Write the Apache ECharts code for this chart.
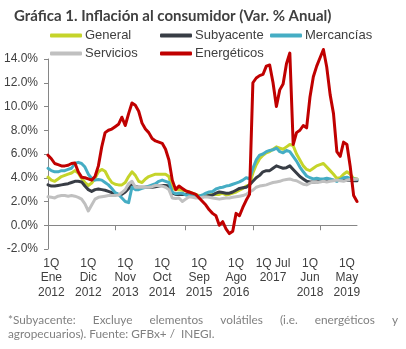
<!DOCTYPE html>
<html>
<head>
<meta charset="utf-8">
<script src="https://cdn.jsdelivr.net/npm/echarts@6/dist/echarts.min.js"></script>
<style>
  html, body { margin: 0; padding: 0; background: #fff; }
  #chart { width: 406px; height: 349px; }
</style>
</head>
<body>
<div id="chart"></div>
<script>
// Meses (primera quincena), de Dic 2011 a Ago 2019
const monthNames = ['Ene', 'Feb', 'Mar', 'Abr', 'May', 'Jun', 'Jul', 'Ago', 'Sep', 'Oct', 'Nov', 'Dic']
const categories = []
for (let k = 0; k < 93; k++) {
  const m = (11 + k) % 12
  const y = 2011 + Math.floor((11 + k) / 12)
  categories.push('1Q ' + monthNames[m] + ' ' + y)
}

// etiquetas del eje X (una cada 11 meses, desde Ene 2012)
const tickLabels = ['1Q\nEne\n2012', '1Q\nDic\n2012', '1Q\nNov\n2013', '1Q\nOct\n2014', '1Q\nSep\n2015',
  '1Q\nAgo\n2016', '1Q Jul\n2017', '1Q\nJun\n2018', '1Q\nMay\n2019']
const zeroTicks = [0, 20, 41, 61, 81]

const general = [4.05, 3.8, 3.7, 3.9, 4.1, 4.2, 4.3, 4.4, 4.6, 4.4, 3.95, 3.6, 3.35, 3.55, 3.95, 4.5, 4.7, 4.55, 4.0, 3.6,
  3.45, 3.4, 3.4, 3.6, 4.1, 4.5, 4.2, 3.7, 3.6, 3.9, 4.1, 4.2, 4.3, 4.3, 4.3, 4.3, 4.1, 3.1, 3.0, 3.0,
  2.95, 2.9, 2.8, 2.7, 2.6, 2.5, 2.45, 2.5, 2.55, 2.6, 2.6, 2.6, 2.7, 2.55, 2.6, 2.7, 2.8, 2.95, 3.1, 3.3,
  3.4, 4.4, 5.1, 5.6, 5.9, 6.1, 6.2, 6.4, 6.6, 6.5, 6.4, 6.6, 6.8, 6.7, 6.0, 5.5, 5.0, 4.7, 4.6, 4.8,
  5.0, 5.1, 5.2, 4.9, 4.6, 4.3, 3.95, 4.0, 4.3, 4.5, 4.3, 3.95, 3.9]

const subyacente = [3.4, 3.3, 3.3, 3.35, 3.4, 3.45, 3.5, 3.6, 3.7, 3.7, 3.65, 3.3, 3.0, 2.85, 3.0, 3.05, 3.0, 2.95, 2.85, 2.75,
  2.65, 2.6, 2.6, 2.8, 3.1, 3.4, 3.25, 3.2, 3.2, 3.2, 3.2, 3.2, 3.25, 3.3, 3.35, 3.35, 3.3, 2.7, 2.6, 2.6,
  2.6, 2.6, 2.55, 2.45, 2.4, 2.4, 2.4, 2.45, 2.5, 2.55, 2.7, 2.8, 2.75, 2.7, 2.7, 2.8, 2.95, 3.1, 3.15, 3.2,
  3.4, 3.7, 4.0, 4.2, 4.5, 4.6, 4.6, 4.8, 5.0, 4.9, 4.8, 4.85, 5.0, 4.7, 4.4, 4.1, 3.9, 3.7, 3.65, 3.65,
  3.65, 3.7, 3.8, 3.75, 3.8, 3.8, 3.75, 3.8, 3.85, 3.8, 3.8, 3.75, 3.75]

const mercancias = [4.8, 4.6, 4.5, 4.5, 4.6, 4.6, 4.7, 4.8, 5.2, 5.3, 5.2, 4.9, 4.3, 3.95, 3.8, 3.85, 3.8, 3.6, 3.4, 3.1,
  2.75, 2.6, 2.3, 2.0, 1.9, 3.2, 3.0, 3.0, 3.1, 3.2, 3.3, 3.4, 3.5, 3.7, 3.8, 3.7, 3.6, 2.8, 2.65, 2.7,
  2.7, 2.55, 2.5, 2.45, 2.4, 2.45, 2.55, 2.7, 2.8, 2.85, 3.05, 3.15, 3.2, 3.3, 3.35, 3.45, 3.55, 3.65, 3.8, 4.0,
  3.9, 4.8, 5.5, 5.9, 6.0, 6.2, 6.3, 6.35, 6.5, 6.2, 6.1, 6.3, 6.2, 5.8, 5.4, 4.9, 4.5, 4.15, 4.0, 3.9,
  3.95, 3.9, 3.9, 3.95, 3.9, 3.8, 3.7, 3.85, 4.0, 4.05, 3.95, 3.9, 3.85]

const servicios = [2.4, 2.35, 2.3, 2.45, 2.5, 2.5, 2.45, 2.5, 2.45, 2.35, 2.2, 1.8, 1.2, 1.7, 2.2, 2.35, 2.4, 2.45, 2.5, 2.5,
  2.5, 2.55, 2.75, 3.0, 3.5, 3.7, 3.2, 3.2, 3.2, 3.2, 3.2, 3.25, 3.35, 3.35, 3.3, 3.2, 3.0, 2.3, 2.25, 2.3,
  2.0, 2.2, 2.4, 2.35, 2.3, 2.3, 2.35, 2.4, 2.35, 2.3, 2.25, 2.2, 2.25, 2.3, 2.3, 2.35, 2.4, 2.45, 2.5, 2.6,
  2.8, 2.95, 3.2, 3.3, 3.35, 3.4, 3.5, 3.6, 3.65, 3.7, 3.8, 3.85, 3.9, 3.8, 3.75, 3.6, 3.45, 3.4, 3.55, 3.65,
  3.6, 3.65, 3.7, 3.65, 3.7, 3.75, 3.8, 3.75, 3.7, 3.8, 3.85, 3.85, 3.9]

const energeticos = [5.9, 5.6, 5.2, 5.1, 5.0, 5.0, 5.05, 5.2, 5.25, 4.5, 4.05, 4.0, 3.9, 3.8, 4.1, 5.0, 6.6, 7.8, 8.0, 8.1,
  8.3, 8.5, 9.1, 8.4, 9.4, 10.3, 10.1, 9.6, 8.6, 8.1, 7.8, 7.3, 7.1, 7.0, 6.9, 6.4, 5.5, 3.8, 3.0, 3.3,
  3.1, 2.9, 2.8, 2.7, 2.6, 2.3, 2.0, 1.7, 1.3, 1.0, 0.8, 0.0, 0.3, -0.3, -0.7, -0.5, 1.0, 0.8, 1.5, 2.1,
  2.6, 12.0, 12.4, 12.6, 12.7, 13.4, 13.5, 12.0, 10.0, 11.4, 11.9, 13.6, 14.5, 6.8, 7.8, 8.0, 8.4, 8.2, 10.8, 12.5,
  13.4, 14.1, 14.8, 13.3, 11.0, 9.4, 6.2, 5.8, 7.0, 6.8, 4.9, 2.5, 2.0]

const seriesList = [
  { name: 'General', data: general, color: '#c5d42a' },
  { name: 'Subyacente', data: subyacente, color: '#383d45' },
  { name: 'Mercancías', data: mercancias, color: '#45adc4' },
  { name: 'Servicios', data: servicios, color: '#c0c0c0' },
  { name: 'Energéticos', data: energeticos, color: '#c00000' }
]

const axisColor = '#868686'
const labelFont = 'Liberation Sans, Arial, sans-serif'
const textFont = 'Lato'

const legendPos = {
  'General': [50, 29],
  'Subyacente': [160, 29],
  'Mercancías': [270, 29],
  'Servicios': [50, 47],
  'Energéticos': [160, 47]
}

// nota al pie justificada
const noteWords = ['*Subyacente:', 'Excluye', 'elementos', 'volátiles', '(i.e.', 'energéticos', 'y']
const noteLine2 = 'agropecuarios). Fuente: GFBx+ /  INEGI.'
const noteSize = 11.8
const noteColor = '#808080'

const buildNote = () => {
  const ctx = document.createElement('canvas').getContext('2d')
  ctx.font = noteSize + 'px ' + textFont
  const widths = noteWords.map(w => ctx.measureText(w).width)
  const total = widths.reduce((a, b) => a + b, 0)
  const left = 8, right = 398
  const gap = (right - left - total) / (noteWords.length - 1)
  const textStyle = { fontSize: noteSize, fontFamily: textFont, fill: noteColor, verticalAlign: 'middle' }
  const items = []
  let x = left
  noteWords.forEach((w, i) => {
    items.push({ type: 'text', x: x, y: 320, style: Object.assign({ text: w }, textStyle) })
    x += widths[i] + gap
  })
  items.push({ type: 'text', x: left, y: 334, style: Object.assign({ text: noteLine2 }, textStyle) })
  return items
}

const chart = echarts.init(document.getElementById('chart'))

const option = {
  animation: false,
  backgroundColor: '#fff',
  title: {
    text: 'Gráfica 1. Inflación al consumidor (Var. % Anual)',
    left: 9,
    top: 4,
    textStyle: { fontSize: 15, fontWeight: 'bold', color: '#404040', fontFamily: textFont }
  },
  legend: seriesList.map(s => ({
    data: [s.name],
    left: legendPos[s.name][0],
    top: legendPos[s.name][1],
    padding: 0,
    icon: 'roundRect',
    itemWidth: 32,
    itemHeight: 4,
    itemStyle: { borderWidth: 0 },
    textStyle: { fontSize: 13, color: '#404040', fontFamily: labelFont, padding: [0, 0, 0, -2] }
  })),
  grid: { left: 48, right: 49, top: 59, bottom: 100, outerBoundsMode: 'none' },
  xAxis: [
    {
      type: 'category',
      data: categories,
      boundaryGap: false,
      position: 'bottom',
      axisLine: { show: false, onZero: false },
      axisTick: { show: false },
      axisLabel: {
        interval: (index) => index >= 1 && (index - 1) % 11 === 0,
        formatter: (value, index) => tickLabels[(index - 1) / 11],
        color: '#404040',
        fontSize: 12,
        lineHeight: 14.5,
        fontFamily: labelFont,
        margin: 7
      }
    },
    {
      type: 'category',
      data: categories,
      boundaryGap: false,
      position: 'bottom',
      axisLine: { show: true, onZero: true, lineStyle: { color: axisColor, width: 1 } },
      axisTick: {
        show: true,
        interval: (index) => zeroTicks.includes(index),
        length: 5,
        lineStyle: { color: axisColor }
      },
      axisLabel: { show: false }
    }
  ],
  yAxis: {
    type: 'value',
    min: -2,
    max: 14,
    interval: 2,
    axisLine: { show: true, lineStyle: { color: axisColor, width: 1 } },
    axisTick: { show: true, length: 4, lineStyle: { color: axisColor } },
    splitLine: { show: false },
    axisLabel: {
      formatter: (v) => v.toFixed(1) + '%',
      color: '#404040',
      fontSize: 12,
      fontFamily: labelFont,
      margin: 10
    }
  },
  series: seriesList.map(s => ({
    name: s.name,
    type: 'line',
    data: s.data,
    xAxisIndex: 0,
    symbol: 'none',
    clip: false,
    color: s.color,
    lineStyle: { color: s.color, width: 3, cap: 'round', join: 'round' }
  })),
  graphic: buildNote()
}

chart.setOption(option)
</script>
</body>
</html>
